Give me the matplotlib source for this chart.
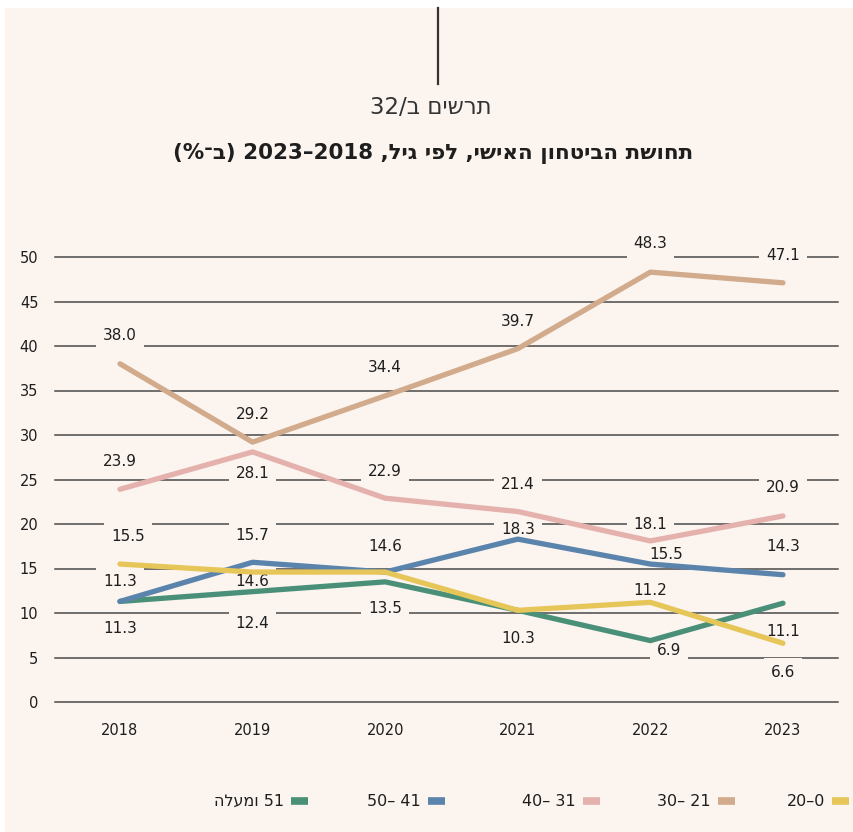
import matplotlib
matplotlib.use("Agg")
import matplotlib.pyplot as plt
from matplotlib.patches import Rectangle
from matplotlib.lines import Line2D

# data (values in %)
years = [2018, 2019, 2020, 2021, 2022, 2023]
age_0_20 = [15.5, 14.6, 14.6, 10.3, 11.2, 6.6]
age_21_30 = [38.0, 29.2, 34.4, 39.7, 48.3, 47.1]
age_31_40 = [23.9, 28.1, 22.9, 21.4, 18.1, 20.9]
age_41_50 = [11.3, 15.7, 14.6, 18.3, 15.5, 14.3]
age_51_up = [11.3, 12.4, 13.5, 10.3, 6.9, 11.1]

# legend labels, already in visual (left-to-right) order for Hebrew
lbl_0_20 = "20–0"
lbl_21_30 = "30– 21"
lbl_31_40 = "40– 31"
lbl_41_50 = "50– 41"
lbl_51_up = "הלעמו 51"

title = "(%־ב) 2023–2018 ,ליג יפל ,ישיאה ןוחטיבה תשוחת"
subtitle = "32/ב םישרת"

yticks = [0, 5, 10, 15, 20, 25, 30, 35, 40, 45, 50]

BG = "#FBF4EF"
TXT = "#1e1e1e"

# label offsets in pixels (dx, dy up); None = no label
off_0_20 = [(8, 28), (0, -9), None, (0, -28), (0, 12), (0, -29)]
off_21_30 = [(0, 28), (0, 28), (0, 28), (0, 27), (0, 29), (0, 27)]
off_31_40 = [(0, 28), (0, -22), (0, 27), (0, 27), (0, 16), (0, 28)]
off_41_50 = [(0, 20), (0, 27), (0, 26), (0, 10), (16, 10), (0, 28)]
off_51_up = [(0, -27), (0, -32), (0, -27), None, (19, -10), (0, -28)]

# legend swatch left edges (px) and swatch width
leg_x = [291, 428, 583, 718, 832]
leg_w = 17
leg_y = 801

series = [
    (age_51_up, "#4A9079", lbl_51_up, off_51_up),
    (age_41_50, "#5B84AD", lbl_41_50, off_41_50),
    (age_31_40, "#E4B1AD", lbl_31_40, off_31_40),
    (age_21_30, "#D1AB8C", lbl_21_30, off_21_30),
    (age_0_20, "#E7C659", lbl_0_20, off_0_20),
]

W, H = 854, 832
fig = plt.figure(figsize=(W / 100, H / 100), dpi=100, facecolor="white")
fig.patches.append(Rectangle((5 / W, 0), 1 - 5 / W, 1 - 8 / H,
                             transform=fig.transFigure, facecolor=BG,
                             edgecolor="none", zorder=-10))

# little vertical rule at the top
fig.add_artist(Line2D([438 / W, 438 / W], [1 - 8 / H, 1 - 84 / H],
                      transform=fig.transFigure, color="#333333", lw=1.6))

fig.text(0.505, 1 - 108 / H, subtitle, ha="center", va="center",
         fontsize=16.5, color="#333333")
fig.text(0.507, 1 - 153 / H, title, ha="center", va="center",
         fontsize=15.4, fontweight="bold", color=TXT)

ax = fig.add_axes([55 / W, 1 - 702 / H, 783 / W, 445 / H])
ax.set_facecolor("none")
ax.set_xlim(2017.51, 2023.415)
ax.set_ylim(0, 50)
for s in ax.spines.values():
    s.set_visible(False)
ax.set_yticks(yticks)
ax.set_xticks(years)
ax.tick_params(axis="y", length=0, pad=12, labelsize=10.5, labelcolor=TXT)
ax.tick_params(axis="x", length=0, pad=15, labelsize=10.5, labelcolor=TXT)
ax.grid(axis="y", color="#4a4a4a", lw=1.1)
for gl in ax.get_ygridlines():
    gl.set_clip_on(False)
ax.set_axisbelow(True)

for i, (vals, col, lbl, offs) in enumerate(series):
    ax.plot(years, vals, color=col, lw=3.8, solid_capstyle="round",
            zorder=3, clip_on=False)
    for x, v, o in zip(years, vals, offs):
        if o is None:
            continue
        ax.annotate(f"{v:.1f}", (x, v), xytext=o, textcoords="offset pixels",
                    ha="center", va="center", fontsize=11, color=TXT, zorder=2,
                    annotation_clip=False,
                    bbox=dict(boxstyle="square,pad=0.45", fc=BG, ec="none"))
    # legend entry: text on the left, colour swatch on the right
    x0 = leg_x[i]
    fig.add_artist(Line2D([x0 / W, (x0 + leg_w) / W], [1 - leg_y / H] * 2,
                          transform=fig.transFigure, color=col, lw=5.5,
                          solid_capstyle="butt"))
    fig.text((x0 - 7) / W, 1 - leg_y / H, lbl, ha="right", va="center",
             fontsize=11.5, color=TXT)

fig.savefig("out.png", dpi=100, facecolor=fig.get_facecolor())
